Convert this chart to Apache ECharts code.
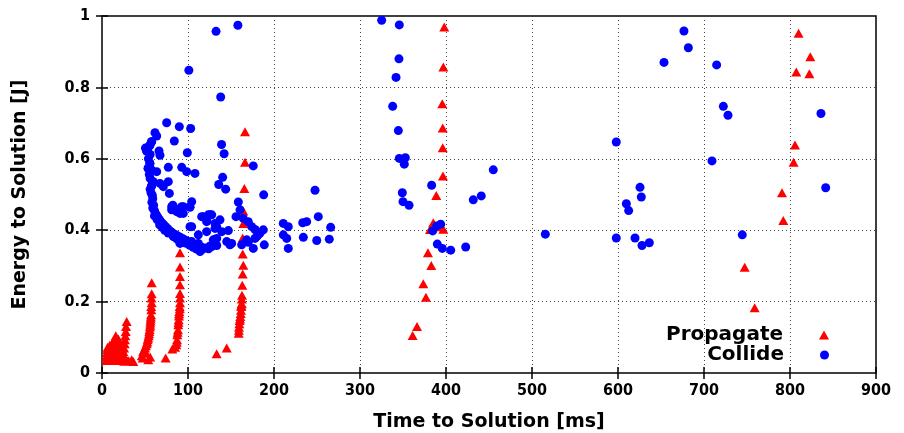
<!DOCTYPE html>
<html>
<head>
<meta charset="utf-8">
<script src="https://cdn.jsdelivr.net/npm/echarts@6/dist/echarts.min.js"></script>
<style>html,body{margin:0;padding:0;background:#fff;}#chart{width:904px;height:433px;}</style>
</head>
<body>
<div id="chart"></div>
<script>
const xTicks = [0, 100, 200, 300, 400, 500, 600, 700, 800, 900];
const yTicks = [0, 0.2, 0.4, 0.6, 0.8, 1];
const seriesNames = ['Propagate', 'Collide'];

// Propagate: [time ms, energy J]
const propagateLeft = [
  [5,0.035],[5,0.045],[5.5,0.055],[6,0.065],[6.5,0.072],[7,0.04],[7.5,0.05],[8,0.06],[8.5,0.07],[9,0.078],
  [9.5,0.035],[10,0.045],[10.5,0.055],[11,0.065],[11.5,0.075],[12,0.085],[12.5,0.04],[13,0.05],[13.5,0.06],
  [14,0.07],[14.5,0.08],[15,0.09],[15.5,0.098],[16,0.104],[16.5,0.035],[17,0.045],[17.5,0.055],[18,0.065],
  [18,0.075],[18.5,0.085],[19,0.095],[19.5,0.04],[20,0.05],[20.5,0.06],[21,0.07],[21.5,0.08],[22,0.035],
  [22.5,0.045],[23,0.055],[23.5,0.065],[24,0.04],
  [28.7,0.144],[27.9,0.130],[27.6,0.116],[27.1,0.104],[26.7,0.093],[26.4,0.082],[25.6,0.070],[24.8,0.060],
  [24.8,0.051],[24.5,0.042],[29,0.035],[31,0.034],[34.5,0.037],[36.4,0.032],[26,0.033]
];
const propagateCol1 = [
  [57.8,0.253],[57.8,0.222],[57.5,0.21],[57.8,0.197],[57.2,0.186],[57.3,0.177],[57,0.163],[56.8,0.157],
  [56.6,0.151],[56.4,0.146],[56.2,0.140],[56,0.134],[55.8,0.129],[55.4,0.122],[55,0.116],[54.7,0.11],
  [54.3,0.104],[53.7,0.098],[53.1,0.093],[52.6,0.087],[52,0.082],[51,0.076],[50,0.070],[49,0.065],
  [48,0.060],[46.2,0.048],[53.8,0.037],[47.3,0.042],[56,0.045],[51,0.055]
];
const propagateCol2 = [
  [90.7,0.337],[90.7,0.297],[90.7,0.270],[90.7,0.247],[90.7,0.223],[90.7,0.21],[90.7,0.197],[90.3,0.186],
  [90.5,0.18],[89.9,0.172],[89.7,0.166],[89.5,0.160],[89.2,0.149],[89,0.142],[88.7,0.135],[88.4,0.121],
  [88,0.114],[87.6,0.107],[87.2,0.093],[87,0.086],[86.4,0.079],[85,0.072],[81.8,0.067],[74,0.042],[88.5,0.382]
];
const propagateCol3 = [
  [166.3,0.676],[166.3,0.590],[165.5,0.517],[164.3,0.454],[164.3,0.419],[163.6,0.378],[163.6,0.333],
  [164.3,0.302],[163.6,0.277],[163.1,0.246],[162.8,0.218],[162.6,0.207],[162.4,0.195],[162,0.19],
  [161.9,0.186],[161.6,0.176],[161.3,0.167],[160.8,0.158],[160.5,0.152],[160.1,0.147],[159.7,0.138],
  [159.3,0.128],[159.2,0.12],[159,0.111],[145,0.070],[133.3,0.054]
];
const propagateRight = [
  [398,0.969],[396.9,0.857],[395.7,0.754],[396.2,0.686],[396.2,0.631],[396.5,0.552],[388.7,0.497],
  [385.2,0.421],[381.4,0.402],[396.9,0.403],[390,0.41],[379,0.337],[382.9,0.301],[373.6,0.250],
  [376.7,0.212],[366.3,0.130],[361.2,0.105],
  [810,0.952],[823.6,0.886],[807.3,0.843],[822.5,0.838],[805.8,0.639],[804.2,0.590],[790.7,0.505],
  [792.2,0.427],[747.3,0.296],[758.9,0.183]
];

// Collide: [time ms, energy J]
const collideArc = [
  [50.5,0.630],[52,0.622],[53.5,0.630],[55.5,0.638],[57.5,0.648],[56,0.612],[54,0.600],[55.5,0.587],
  [53.5,0.573],[57.5,0.568],[55,0.556],[56,0.545],[58.5,0.536],[57.5,0.524],[56,0.515],[57,0.505],
  [58.5,0.498],[59,0.488],[58,0.478],[60,0.47],[59,0.462],[61,0.455],[62,0.448],[63.5,0.442],[65,0.436],
  [66.5,0.43],[68,0.425],[70,0.42],[72,0.415],[74,0.41],[76,0.405],[78,0.40],[80,0.396],[82,0.392],
  [85,0.388],[88,0.384],[91,0.38],[94,0.376],[97,0.372],[100,0.368],[104,0.364],[108,0.36],[112,0.356],
  [116,0.352],[120,0.35],[124,0.348],[61,0.44],[64,0.43],[67,0.415],[70,0.408],[73,0.4],[77,0.392],
  [83,0.382],[87,0.376],[92,0.372],[96,0.365],[102,0.358],[106,0.352],[110,0.347],[115,0.345]
];
const collideUpper = [
  [132.6,0.957],[158,0.974],[101,0.848],[138,0.773],[139,0.640],[142,0.614],
  [75.2,0.701],[89.9,0.690],[103.1,0.685],[61.6,0.673],[63.6,0.664],[84.1,0.650],[57.8,0.648],[55.8,0.638],
  [53.1,0.629],[52,0.622],[66.3,0.622],[67.4,0.610],[99.2,0.617],[55.8,0.587],[53.8,0.573],[57.8,0.568],
  [63.6,0.564],[77.1,0.576],[92.7,0.576],[98.5,0.564],[108.1,0.559],[59.7,0.536],[57.8,0.524],[67.4,0.531],
  [77.1,0.536],[71.3,0.522]
];
const collideMid = [
  [140.3,0.548],[135.7,0.528],[143.8,0.515],[175.9,0.580],[188,0.499],[158.5,0.479],[78.3,0.503],[81,0.466],
  [92.7,0.466],[102.3,0.464],[90.7,0.447],[115.9,0.438],[123.6,0.443],[121.7,0.429],[131.4,0.419],
  [155.8,0.438],[164.3,0.433],[170.1,0.424],[174.1,0.410],[177.9,0.402],[187.6,0.401],[181.7,0.387],
  [177.9,0.377],[168.3,0.373],[162.4,0.359],[175.9,0.349],[188.7,0.359],[102.3,0.410],[90.7,0.365],
  [104.3,0.368],[112,0.363],[114,0.340],[125.6,0.356],[133.4,0.357],[146.9,0.399],[145,0.368],[148.8,0.359],
  [160.5,0.457],[179.9,0.382],[183.8,0.392],[170.1,0.366],[127.6,0.443],[137.2,0.429],[133.4,0.410],
  [139.2,0.396],[129.4,0.373],[150.8,0.363],
  [82.4,0.470],[90.7,0.461],[94.5,0.466],[104.3,0.480],[102.3,0.466],[81,0.457],[86.9,0.452],[94.5,0.447],
  [117.8,0.438],[125.6,0.443],[121.7,0.424],[104.3,0.410],[112,0.387],[121.7,0.396],[131.4,0.405],
  [133.4,0.377],[90.7,0.363],[98.5,0.363],[108.1,0.359],[115.9,0.345],[127.6,0.354],
  [210.8,0.419],[216.6,0.410],[210.8,0.387],[214.8,0.377],[216.6,0.349],[233.4,0.421],[238,0.424],
  [251.5,0.438],[234.1,0.380],[249.7,0.371],[264.3,0.375],[265.9,0.408],[247.7,0.512]
];
const collideRight = [
  [325.2,0.988],[345.7,0.975],[345.3,0.880],[341.9,0.828],[338,0.747],[344.6,0.679],[345.7,0.601],
  [352.7,0.603],[351.5,0.585],[349.2,0.505],[350,0.480],[357,0.470],[383.3,0.526],[384.5,0.398],
  [389.2,0.412],[393.8,0.417],[389.9,0.361],[395.7,0.349],[405.5,0.344],[422.9,0.353],[431.7,0.485],
  [441,0.496],[455,0.569],[676.7,0.958],[681.8,0.911],[653.5,0.870],[714.7,0.863],[722.5,0.747],
  [727.9,0.722],[836,0.727],[598,0.647],[709.3,0.594],[625.6,0.520],[627.1,0.493],[609.7,0.474],
  [612.4,0.455],[841.5,0.519],[515.5,0.389],[598,0.378],[619.8,0.378],[627.9,0.357],[636.4,0.365],
  [744.5,0.387]
];

const propagateData = [].concat(propagateLeft, propagateCol1, propagateCol2, propagateCol3, propagateRight);
const collideData = [].concat(collideArc, collideUpper, collideMid, collideRight);

const FONT = 'DejaVu Sans';
const TICKFONT = '"DejaVu Sans Condensed", "DejaVu Sans"';
const chart = echarts.init(document.getElementById('chart'), null, {renderer: 'canvas'});
const labelStyle = {color: '#000', fontFamily: TICKFONT, fontWeight: 'bold', fontSize: 16};
const gridLine = {show: true, lineStyle: {color: '#444', type: [1, 3], width: 1}};
const nameStyle = {color: '#000', fontFamily: FONT, fontWeight: 'bold', fontSize: 19};
const legendText = {color: '#000', fontFamily: FONT, fontWeight: 'bold', fontSize: 20, padding: [0, 31, 0, 0]};
chart.setOption({
  animation: false,
  backgroundColor: '#fff',
  grid: {left: 102, right: 28, top: 16, bottom: 60, containLabel: false, outerBoundsMode: 'none',
         show: true, borderColor: '#000', borderWidth: 1.5, backgroundColor: 'transparent'},
  legend: [
    {data: [{name: seriesNames[0], icon: 'triangle'}], right: 70, top: 320, align: 'right', itemWidth: 10, itemHeight: 9, itemGap: 0,
     textStyle: legendText},
    {data: [{name: seriesNames[1], icon: 'circle'}], right: 70, top: 340, align: 'right', itemWidth: 9, itemHeight: 9, itemGap: 0,
     textStyle: legendText}
  ],
  xAxis: [
    {type: 'value', min: xTicks[0], max: xTicks[xTicks.length - 1], interval: 100, position: 'bottom',
     name: 'Time to Solution [ms]', nameLocation: 'middle', nameGap: 40, nameTextStyle: nameStyle,
     axisLine: {show: false}, axisTick: {show: true, inside: true, length: 6, lineStyle: {color: '#000', width: 1.5}},
     axisLabel: Object.assign({margin: 10}, labelStyle), splitLine: gridLine},
    {type: 'value', min: xTicks[0], max: xTicks[xTicks.length - 1], interval: 100, position: 'top',
     axisLine: {show: false}, axisTick: {show: true, inside: true, length: 6, lineStyle: {color: '#000', width: 1.5}},
     axisLabel: {show: false}, splitLine: {show: false}}
  ],
  yAxis: [
    {type: 'value', min: yTicks[0], max: yTicks[yTicks.length - 1], interval: 0.2, position: 'left',
     name: 'Energy to Solution [J]', nameLocation: 'middle', nameGap: 72, nameRotate: 90, nameTextStyle: nameStyle,
     axisLine: {show: false}, axisTick: {show: true, inside: true, length: 6, lineStyle: {color: '#000', width: 1.5}},
     axisLabel: Object.assign({margin: 12}, labelStyle), splitLine: gridLine},
    {type: 'value', min: yTicks[0], max: yTicks[yTicks.length - 1], interval: 0.2, position: 'right',
     axisLine: {show: false}, axisTick: {show: true, inside: true, length: 6, lineStyle: {color: '#000', width: 1.5}},
     axisLabel: {show: false}, splitLine: {show: false}}
  ],
  series: [
    {name: seriesNames[0], type: 'scatter', symbol: 'triangle', symbolSize: [10, 9], data: propagateData,
     itemStyle: {color: '#ff0000', opacity: 1}, xAxisIndex: 0, yAxisIndex: 0},
    {name: seriesNames[1], type: 'scatter', symbol: 'circle', symbolSize: 9, data: collideData,
     itemStyle: {color: '#0000ff', opacity: 1}, xAxisIndex: 0, yAxisIndex: 0}
  ]
});
</script>
</body>
</html>
